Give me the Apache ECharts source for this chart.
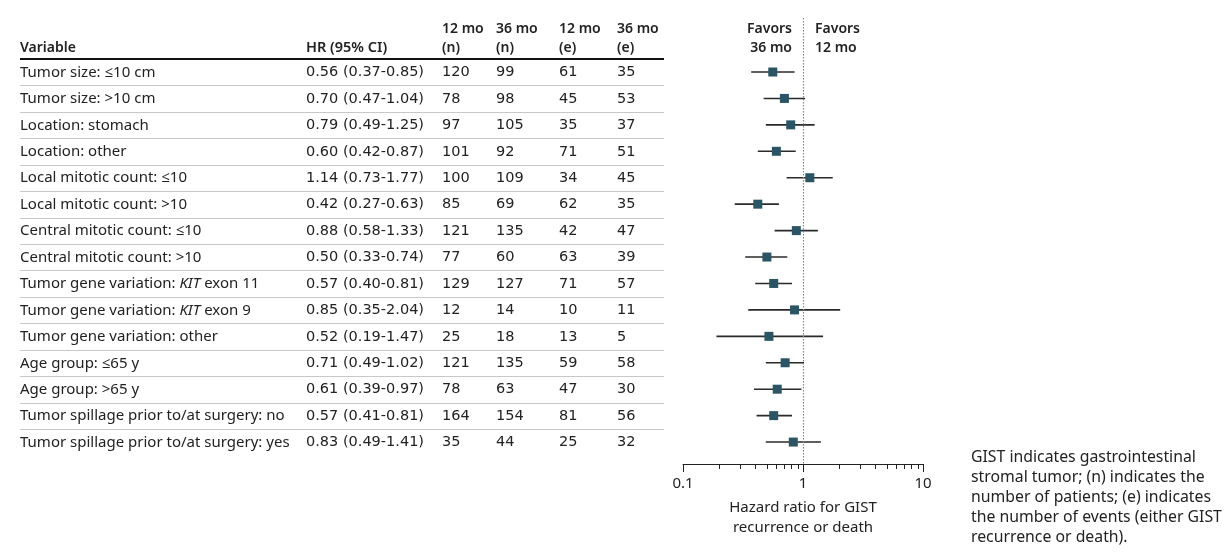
<!DOCTYPE html>
<html>
<head>
<meta charset="utf-8">
<script src="https://cdn.jsdelivr.net/npm/echarts@6/dist/echarts.min.js"></script>
<style>html,body{margin:0;padding:0;background:#fff;}#c{width:1232px;height:558px;}</style>
</head>
<body>
<div id="c"></div>
<script>
const variables = [
  "Tumor size: ≤10 cm",
  "Tumor size: >10 cm",
  "Location: stomach",
  "Location: other",
  "Local mitotic count: ≤10",
  "Local mitotic count: >10",
  "Central mitotic count: ≤10",
  "Central mitotic count: >10",
  "Tumor gene variation: KIT exon 11",
  "Tumor gene variation: KIT exon 9",
  "Tumor gene variation: other",
  "Age group: ≤65 y",
  "Age group: >65 y",
  "Tumor spillage prior to/at surgery: no",
  "Tumor spillage prior to/at surgery: yes"
];
const hr     = [0.56, 0.70, 0.79, 0.60, 1.14, 0.42, 0.88, 0.50, 0.57, 0.85, 0.52, 0.71, 0.61, 0.57, 0.83];
const ciLow  = [0.37, 0.47, 0.49, 0.42, 0.73, 0.27, 0.58, 0.33, 0.40, 0.35, 0.19, 0.49, 0.39, 0.41, 0.49];
const ciHigh = [0.85, 1.04, 1.25, 0.87, 1.77, 0.63, 1.33, 0.74, 0.81, 2.04, 1.47, 1.02, 0.97, 0.81, 1.41];
const n12 = [120, 78, 97, 101, 100, 85, 121, 77, 129, 12, 25, 121, 78, 164, 35];
const n36 = [99, 98, 105, 92, 109, 69, 135, 60, 127, 14, 18, 135, 63, 154, 44];
const e12 = [61, 45, 35, 71, 34, 62, 42, 63, 71, 10, 13, 59, 47, 81, 25];
const e36 = [35, 53, 37, 51, 45, 35, 47, 39, 57, 11, 5, 58, 30, 56, 32];
const xTicks = [0.1, 1, 10];
const minorTicks = [0.2,0.3,0.4,0.5,0.6,0.7,0.8,0.9,2,3,4,5,6,7,8,9];
const colHeaders = ["12 mo\n(n)", "36 mo\n(n)", "12 mo\n(e)", "36 mo\n(e)"];
const axisTitle = "Hazard ratio for GIST\nrecurrence or death";
const footnote = "GIST indicates gastrointestinal\nstromal tumor; (n) indicates the\nnumber of patients; (e) indicates\nthe number of events (either GIST\nrecurrence or death).";

const FONT = '"Noto Sans", "Open Sans", sans-serif';
const NUMFONT = '"DejaVu Sans", "Noto Sans", sans-serif';
const TXT = '#222';
const FS = 15;
const NFS = 14.5;
const colX = {variable: 20, hr: 306, n12: 442, n36: 496, e12: 559, e36: 617};
const lineEnd = 664;
const nRows = variables.length;

const chart = echarts.init(document.getElementById('c'), null, {renderer: 'canvas'});

const tableData = variables.map((v, i) => [1, i]);
const ciData = hr.map((h, i) => [ciLow[i], ciHigh[i], i]);
const hrData = hr.map((h, i) => [h, i]);

function fmt(v){ return v.toFixed(2); }
function hText(text, x, y, align, size){
  return {type: 'text', x: x, y: y, style: {text: text, fill: TXT, font: '600 ' + (size || 14) + 'px ' + FONT,
    lineHeight: 19, align: align || 'left', verticalAlign: 'middle'}};
}

const option = {
  animation: false,
  backgroundColor: '#fff',
  grid: {left: 683, right: 309, top: 18, bottom: 94, containLabel: false},
  xAxis: {
    type: 'log', logBase: 10, min: 0.1, max: 10,
    axisLine: {show: true, onZero: false, lineStyle: {color: '#222', width: 1}},
    axisTick: {show: true, length: 8, inside: false, lineStyle: {color: '#222', width: 1}},
    axisLabel: {show: true, margin: 12, color: TXT, fontFamily: FONT, fontSize: FS,
      formatter: v => { const t = xTicks.find(x => Math.abs(x - v) < 1e-9 * Math.max(1, v)); return t !== undefined ? String(t) : String(+v.toPrecision(3)); }},
    splitLine: {show: false},
    minorTick: {show: false},
    name: axisTitle, nameLocation: 'middle', nameGap: 34,
    nameTextStyle: {color: TXT, fontFamily: FONT, fontSize: FS, lineHeight: 20, align: 'center', verticalAlign: 'top'}
  },
  yAxis: {
    type: 'value', inverse: true, min: -2.043, max: 14.83, show: false
  },
  series: [
    {
      type: 'custom', name: 'table', data: tableData, clip: false, silent: true,
      encode: {x: 0, y: 1},
      renderItem: function(params, api){
        const i = api.value(1);
        const y = api.coord([1, i])[1] + 0.5;
        const yNext = api.coord([1, i + 1])[1];
        const children = [];
        const label = variables[i].replace('KIT', '{i|KIT}');
        const baseStyle = {fill: TXT, font: FS + 'px ' + FONT, verticalAlign: 'middle', align: 'left'};
        const numStyle = {fill: TXT, font: NFS + 'px ' + NUMFONT, verticalAlign: 'middle', align: 'left'};
        children.push({type: 'text', style: Object.assign({}, baseStyle, {x: colX.variable, y: y, text: label,
          rich: {i: {fontStyle: 'italic', fontFamily: FONT, fontSize: FS, fill: TXT, color: TXT}}})});
        children.push({type: 'text', style: Object.assign({}, numStyle, {x: colX.hr, y: y,
          text: fmt(hr[i]) + ' (' + fmt(ciLow[i]) + '-' + fmt(ciHigh[i]) + ')'})});
        children.push({type: 'text', style: Object.assign({}, numStyle, {x: colX.n12, y: y, text: String(n12[i])})});
        children.push({type: 'text', style: Object.assign({}, numStyle, {x: colX.n36, y: y, text: String(n36[i])})});
        children.push({type: 'text', style: Object.assign({}, numStyle, {x: colX.e12, y: y, text: String(e12[i])})});
        children.push({type: 'text', style: Object.assign({}, numStyle, {x: colX.e36, y: y, text: String(e36[i])})});
        if (i < nRows - 1) {
          const ys = Math.round((y + yNext) / 2) + 0.5;
          children.push({type: 'line', shape: {x1: colX.variable, y1: ys, x2: lineEnd, y2: ys},
            style: {stroke: '#c8c8c8', lineWidth: 1}});
        }
        return {type: 'group', children: children};
      },
      z: 1
    },
    {
      type: 'custom', name: 'minorTicks', data: minorTicks.map(v => [v, 14.83]), clip: false, silent: true,
      encode: {x: 0, y: 1},
      renderItem: function(params, api){
        const p = api.coord([api.value(0), api.value(1)]);
        const x = Math.round(p[0]) + 0.5;
        return {type: 'line', shape: {x1: x, y1: p[1], x2: x, y2: p[1] + 5}, style: {stroke: '#222', lineWidth: 1}};
      }
    },
    {
      type: 'custom', name: 'CI', data: ciData, clip: false,
      encode: {x: [0, 1], y: 2},
      renderItem: function(params, api){
        const a = api.coord([api.value(0), api.value(2)]);
        const b = api.coord([api.value(1), api.value(2)]);
        return {type: 'line', shape: {x1: a[0], y1: a[1], x2: b[0], y2: b[1]},
          style: {stroke: '#2a2a2a', lineWidth: 1.6}};
      },
      z: 2
    },
    {
      type: 'scatter', name: 'HR', data: hrData, symbol: 'rect', symbolSize: 9,
      itemStyle: {color: '#2b5564', opacity: 1}, z: 3,
      markLine: {
        silent: true, symbol: ['none', 'none'], label: {show: false},
        lineStyle: {color: '#888', type: [1.5, 1.5], width: 1.2},
        data: [{xAxis: 1}]
      }
    }
  ],
  graphic: [
    hText('Variable', colX.variable, 48),
    hText('HR (95% CI)', colX.hr, 48, 'left', 14.5),
    hText(colHeaders[0], colX.n12, 39),
    hText(colHeaders[1], colX.n36, 39),
    hText(colHeaders[2], colX.e12, 39),
    hText(colHeaders[3], colX.e36, 39),
    {type: 'line', shape: {x1: colX.variable, y1: 59, x2: lineEnd, y2: 59}, style: {stroke: '#111', lineWidth: 2}},
    hText('Favors\n36 mo', 792, 39, 'right'),
    hText('Favors\n12 mo', 815, 39, 'left'),
    {type: 'text', x: 971, y: 497, style: {text: footnote, fill: TXT, font: '15.8px ' + FONT, lineHeight: 20, verticalAlign: 'middle'}}
  ]
};
chart.setOption(option);
</script>
</body>
</html>
